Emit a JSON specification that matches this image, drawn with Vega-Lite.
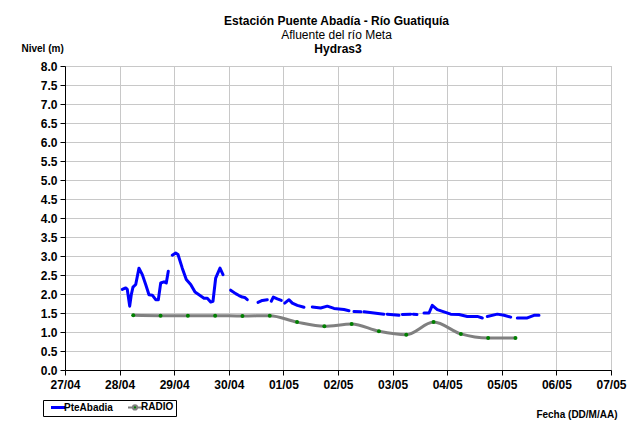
{
  "$schema": "https://vega.github.io/schema/vega-lite/v6.json",
  "padding": {"left": 20, "top": 14, "right": 10, "bottom": 5},
  "background": "white",
  "title": {
    "text": "Estación Puente Abadía  - Río Guatiquía",
    "subtitle": "Afluente del río Meta",
    "font": "Liberation Sans",
    "subtitleFont": "Liberation Sans",
    "fontSize": 12,
    "fontWeight": "bold",
    "subtitleFontSize": 12,
    "subtitleFontWeight": "normal",
    "color": "black",
    "subtitleColor": "black",
    "subtitlePadding": 2,
    "anchor": "middle",
    "dx": 13,
    "offset": 1
  },
  "datasets": {
    "pte": [
      {"t": "2021-04-28T01:11", "v": 2.12, "seg": 1},
      {"t": "2021-04-28T02:41", "v": 2.16, "seg": 1},
      {"t": "2021-04-28T03:23", "v": 2.12, "seg": 1},
      {"t": "2021-04-28T04:26", "v": 1.68, "seg": 1},
      {"t": "2021-04-28T05:08", "v": 1.98, "seg": 1},
      {"t": "2021-04-28T05:53", "v": 2.18, "seg": 1},
      {"t": "2021-04-28T07:05", "v": 2.25, "seg": 1},
      {"t": "2021-04-28T08:31", "v": 2.68, "seg": 1},
      {"t": "2021-04-28T09:59", "v": 2.51, "seg": 1},
      {"t": "2021-04-28T11:28", "v": 2.25, "seg": 1},
      {"t": "2021-04-28T12:55", "v": 1.98, "seg": 1},
      {"t": "2021-04-28T14:23", "v": 1.97, "seg": 1},
      {"t": "2021-04-28T15:52", "v": 1.85, "seg": 1},
      {"t": "2021-04-28T17:01", "v": 1.85, "seg": 1},
      {"t": "2021-04-28T18:04", "v": 2.29, "seg": 1},
      {"t": "2021-04-28T19:31", "v": 2.32, "seg": 1},
      {"t": "2021-04-28T20:31", "v": 2.29, "seg": 1},
      {"t": "2021-04-28T21:24", "v": 2.60, "seg": 1},
      {"t": "2021-04-28T23:10", "v": 3.02, "seg": 2},
      {"t": "2021-04-29T00:39", "v": 3.08, "seg": 2},
      {"t": "2021-04-29T01:40", "v": 3.04, "seg": 2},
      {"t": "2021-04-29T03:33", "v": 2.68, "seg": 2},
      {"t": "2021-04-29T05:19", "v": 2.38, "seg": 2},
      {"t": "2021-04-29T07:15", "v": 2.25, "seg": 2},
      {"t": "2021-04-29T09:09", "v": 2.05, "seg": 2},
      {"t": "2021-04-29T10:54", "v": 1.98, "seg": 2},
      {"t": "2021-04-29T13:06", "v": 1.89, "seg": 2},
      {"t": "2021-04-29T14:33", "v": 1.89, "seg": 2},
      {"t": "2021-04-29T16:02", "v": 1.79, "seg": 2},
      {"t": "2021-04-29T17:03", "v": 1.81, "seg": 2},
      {"t": "2021-04-29T18:14", "v": 2.42, "seg": 2},
      {"t": "2021-04-29T20:08", "v": 2.68, "seg": 2},
      {"t": "2021-04-29T21:27", "v": 2.51, "seg": 2},
      {"t": "2021-04-30T00:49", "v": 2.10, "seg": 3},
      {"t": "2021-04-30T03:01", "v": 2.01, "seg": 3},
      {"t": "2021-04-30T04:29", "v": 1.96, "seg": 3},
      {"t": "2021-04-30T05:56", "v": 1.92, "seg": 3},
      {"t": "2021-04-30T06:59", "v": 1.91, "seg": 3},
      {"t": "2021-04-30T08:08", "v": 1.85, "seg": 3},
      {"t": "2021-04-30T12:50", "v": 1.78, "seg": 4},
      {"t": "2021-04-30T14:44", "v": 1.83, "seg": 4},
      {"t": "2021-04-30T16:55", "v": 1.85, "seg": 4},
      {"t": "2021-04-30T18:40", "v": 1.81, "seg": 5},
      {"t": "2021-04-30T19:34", "v": 1.92, "seg": 5},
      {"t": "2021-04-30T21:19", "v": 1.87, "seg": 5},
      {"t": "2021-04-30T23:05", "v": 1.83, "seg": 5},
      {"t": "2021-05-01T00:35", "v": 1.76, "seg": 6},
      {"t": "2021-05-01T02:28", "v": 1.85, "seg": 6},
      {"t": "2021-05-01T03:55", "v": 1.76, "seg": 6},
      {"t": "2021-05-01T06:07", "v": 1.70, "seg": 6},
      {"t": "2021-05-01T09:03", "v": 1.65, "seg": 6},
      {"t": "2021-05-01T12:42", "v": 1.66, "seg": 7},
      {"t": "2021-05-01T16:23", "v": 1.63, "seg": 7},
      {"t": "2021-05-01T19:18", "v": 1.68, "seg": 7},
      {"t": "2021-05-01T22:15", "v": 1.62, "seg": 7},
      {"t": "2021-05-02T02:38", "v": 1.59, "seg": 7},
      {"t": "2021-05-02T04:50", "v": 1.56, "seg": 7},
      {"t": "2021-05-02T07:02", "v": 1.54, "seg": 8},
      {"t": "2021-05-02T10:06", "v": 1.53, "seg": 8},
      {"t": "2021-05-02T11:26", "v": 1.53, "seg": 9},
      {"t": "2021-05-02T15:49", "v": 1.50, "seg": 9},
      {"t": "2021-05-02T20:13", "v": 1.47, "seg": 9},
      {"t": "2021-05-02T21:40", "v": 1.47, "seg": 10},
      {"t": "2021-05-03T02:49", "v": 1.44, "seg": 10},
      {"t": "2021-05-03T04:16", "v": 1.46, "seg": 11},
      {"t": "2021-05-03T07:58", "v": 1.47, "seg": 11},
      {"t": "2021-05-03T09:06", "v": 1.47, "seg": 12},
      {"t": "2021-05-03T10:43", "v": 1.46, "seg": 12},
      {"t": "2021-05-03T13:48", "v": 1.50, "seg": 13},
      {"t": "2021-05-03T16:00", "v": 1.50, "seg": 13},
      {"t": "2021-05-03T17:27", "v": 1.70, "seg": 13},
      {"t": "2021-05-03T19:39", "v": 1.59, "seg": 13},
      {"t": "2021-05-03T22:35", "v": 1.53, "seg": 13},
      {"t": "2021-05-04T01:32", "v": 1.47, "seg": 13},
      {"t": "2021-05-04T05:11", "v": 1.46, "seg": 13},
      {"t": "2021-05-04T08:50", "v": 1.41, "seg": 13},
      {"t": "2021-05-04T13:14", "v": 1.41, "seg": 13},
      {"t": "2021-05-04T15:26", "v": 1.37, "seg": 13},
      {"t": "2021-05-04T17:38", "v": 1.41, "seg": 14},
      {"t": "2021-05-04T22:02", "v": 1.47, "seg": 14},
      {"t": "2021-05-05T00:58", "v": 1.44, "seg": 14},
      {"t": "2021-05-05T03:55", "v": 1.39, "seg": 14},
      {"t": "2021-05-05T06:49", "v": 1.37, "seg": 15},
      {"t": "2021-05-05T11:13", "v": 1.37, "seg": 15},
      {"t": "2021-05-05T14:10", "v": 1.44, "seg": 15},
      {"t": "2021-05-05T16:21", "v": 1.44, "seg": 15}
    ],
    "radio": [
      {"t": "2021-04-28T06:00", "v": 1.44},
      {"t": "2021-04-28T18:00", "v": 1.43},
      {"t": "2021-04-29T06:00", "v": 1.43},
      {"t": "2021-04-29T18:00", "v": 1.43},
      {"t": "2021-04-30T06:00", "v": 1.42},
      {"t": "2021-04-30T18:00", "v": 1.43},
      {"t": "2021-05-01T06:00", "v": 1.26},
      {"t": "2021-05-01T18:00", "v": 1.15},
      {"t": "2021-05-02T06:00", "v": 1.21},
      {"t": "2021-05-02T18:00", "v": 1.02},
      {"t": "2021-05-03T06:00", "v": 0.93},
      {"t": "2021-05-03T18:00", "v": 1.26},
      {"t": "2021-05-04T06:00", "v": 0.95},
      {"t": "2021-05-04T18:00", "v": 0.84},
      {"t": "2021-05-05T06:00", "v": 0.84}
    ]
  },
  "vconcat": [
    {
      "width": 546,
      "height": 304,
      "title": {"text": "Hydras3", "fontSize": 12, "fontWeight": "bold", "font": "Liberation Sans", "color": "black", "offset": -13, "anchor": "middle", "frame": "group"},
      "encoding": {
        "x": {
          "field": "t",
          "type": "temporal",
          "scale": {"domain": [{"year": 2021, "month": 4, "date": 27}, {"year": 2021, "month": 5, "date": 7}], "nice": false},
          "axis": {
            "format": "%d/%m",
            "tickCount": {"interval": "day", "step": 1},
            "labelFlush": false,
            "labelOverlap": false,
            "labelPadding": 4,
            "tickSize": 5,
            "title": "Fecha (DD/M/AA)",
            "titleAnchor": "end",
            "titleAlign": "right",
            "titleBaseline": "middle",
            "titleX": 552,
            "titleY": 44
          }
        },
        "y": {
          "field": "v",
          "type": "quantitative",
          "scale": {"domain": [0, 8], "nice": false},
          "axis": {
            "values": [0, 0.5, 1, 1.5, 2, 2.5, 3, 3.5, 4, 4.5, 5, 5.5, 6, 6.5, 7, 7.5, 8],
            "format": ".1f",
            "tickSize": 5,
            "labelPadding": 3,
            "title": "Nivel (m)",
            "titleAngle": 0,
            "titleAlign": "left",
            "titleBaseline": "middle",
            "titleX": -44,
            "titleY": -18
          }
        }
      },
      "layer": [
        {
          "data": {"name": "pte"},
          "mark": {"type": "line", "strokeWidth": 3, "strokeCap": "round", "strokeJoin": "round"},
          "encoding": {
            "detail": {"field": "seg", "type": "nominal"},
            "color": {
              "datum": "PteAbadia",
              "type": "nominal",
              "legend": {
                "encode": {
                  "symbols": {
                    "update": {
                      "shape": {"signal": "datum.value === 'RADIO' ? 'M-1,0L-0.3,0M0.3,0L1,0M-0.3,0A0.3,0.3 0 1,0 0.3,0A0.3,0.3 0 1,0 -0.3,0' : 'stroke'"},
                      "fill": {"signal": "datum.value === 'RADIO' ? '#008000' : 'transparent'"},
                      "strokeWidth": {"signal": "datum.value === 'RADIO' ? 2 : 3"}
                    }
                  }
                }
              }
            }
          }
        },
        {
          "data": {"name": "radio"},
          "mark": {"type": "line", "strokeWidth": 3, "interpolate": "monotone"},
          "encoding": {
            "color": {"datum": "RADIO", "type": "nominal"}
          }
        },
        {
          "data": {"name": "radio"},
          "mark": {"type": "point", "filled": true, "fill": "#008000", "stroke": null, "size": 16, "opacity": 1},
          "encoding": {}
        }
      ]
    }
  ],
  "resolve": {"scale": {"color": "shared"}},
  "config": {
    "font": "Liberation Sans",
    "view": {"stroke": "#b8b8b8"},
    "range": {"category": ["#0000FF", "#808080"]},
    "axis": {
      "labelFont": "Liberation Sans",
      "labelFontWeight": "bold",
      "labelFontSize": 12,
      "labelColor": "black",
      "domainColor": "black",
      "domainWidth": 1,
      "tickColor": "black",
      "gridColor": "#c8c8c8",
      "grid": true,
      "titleFont": "Liberation Sans",
      "titleFontWeight": "bold",
      "titleFontSize": 10,
      "titleColor": "black"
    },
    "legend": {
      "orient": "none",
      "legendX": -22,
      "legendY": 334,
      "direction": "horizontal",
      "title": null,
      "strokeColor": "black",
      "strokeWidth": 1,
      "padding": 2,
      "labelFont": "Liberation Sans",
      "labelFontSize": 10,
      "labelFontWeight": "bold",
      "labelColor": "black",
      "symbolType": "stroke",
      "symbolSize": 196,
      "symbolStrokeWidth": 3,
      "symbolOffset": 8,
      "columnPadding": 9,
      "labelOffset": 1,
      "fillColor": "white"
    }
  }
}
